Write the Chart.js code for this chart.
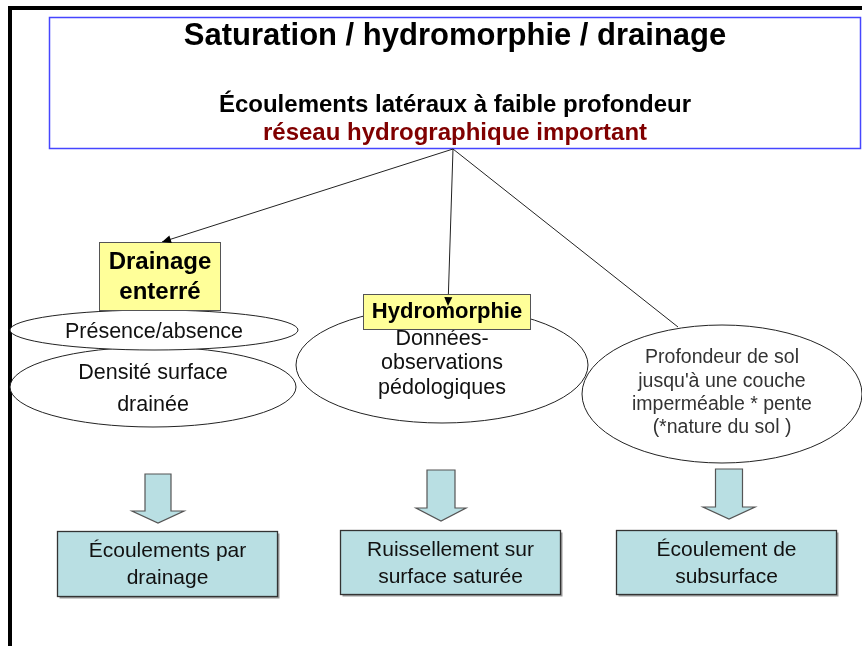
<!DOCTYPE html>
<html>
<head>
<meta charset="utf-8">
<script src="https://cdn.jsdelivr.net/npm/chart.js@4.4.1/dist/chart.umd.min.js"></script>
<style>
  html, body { margin: 0; padding: 0; background: #fff; }
  #diagram { display: block; }
</style>
</head>
<body>
<canvas id="diagram" width="862" height="646"></canvas>
<script>
/* global Chart */

// --- content (text only) ---
const titleLines = [
  'Saturation / hydromorphie / drainage',
  'Écoulements latéraux à faible profondeur',
  'réseau hydrographique important',
]
const branchNames = ['Drainage\nenterré', 'Hydromorphie']
const branchNotes = [
  'Présence/absence',
  'Densité surface\ndrainée',
  'Données-\nobservations\npédologiques',
  "Profondeur de sol\njusqu'à une couche\nimperméable * pente\n(*nature du sol )",
]
const outcomes = [
  'Écoulements par\ndrainage',
  'Ruissellement sur\nsurface saturée',
  'Écoulement de\nsubsurface',
]

// --- layout, in scale units (0..862 x 0..646) ---
const W = 862
const H = 646
const FONT = '"Liberation Sans", Arial, sans-serif'

const header = { x0: 49.5, y0: 17.5, x1: 860.5, y1: 148.5, lineY: [36, 105, 133.5] }
const root = [453, 149]
const links = [
  { to: [162, 242], head: true },
  { to: [448, 306], head: true },
  { to: [678, 327], head: false },
]
const ellipses = [
  { cx: 153, cy: 387, rx: 143, ry: 40, note: 1, size: 21.5, lh: 32, ty: 389 },
  { cx: 154, cy: 330, rx: 144, ry: 20, note: 0, size: 21.5, lh: 24, ty: 332 },
  { cx: 442, cy: 365, rx: 146, ry: 58, note: 2, size: 21.5, lh: 24.5, ty: 363.5 },
  { cx: 722, cy: 394, rx: 140, ry: 69, note: 3, size: 19.5, lh: 23.3, ty: 393 },
]
const labelBoxes = [
  { x0: 99.5, y0: 242.5, x1: 220.5, y1: 310.5, size: 24, lh: 30, ty: 277 },
  { x0: 363.5, y0: 294.5, x1: 530.5, y1: 329.5, size: 22, lh: 24, ty: 312 },
]
const blockArrows = [
  { cx: 158, top: 474, base: 511, tip: 523, shaft: 13, head: 26 },
  { cx: 441, top: 470, base: 508, tip: 521, shaft: 14, head: 25 },
  { cx: 729, top: 469, base: 507, tip: 519, shaft: 13.5, head: 26 },
]
const outcomeBoxes = [
  { x0: 57.5, y0: 531.5, x1: 277.5, y1: 596.5, ty: 564.5 },
  { x0: 340.5, y0: 530.5, x1: 560.5, y1: 594.5, ty: 563.5 },
  { x0: 616.5, y0: 530.5, x1: 836.5, y1: 594.5, ty: 563.5 },
]

function drawLines(ctx, text, x, y, lh) {
  const lines = text.split('\n')
  const start = y - ((lines.length - 1) * lh) / 2
  lines.forEach((line, i) => ctx.fillText(line, x, start + i * lh))
}

const diagramPlugin = {
  id: 'diagram',
  afterDraw(chart) {
    const { ctx } = chart
    const sx = (v) => chart.scales.x.getPixelForValue(v)
    const sy = (v) => chart.scales.y.getPixelForValue(v)
    ctx.save()
    ctx.textAlign = 'center'
    ctx.textBaseline = 'middle'

    // slide frame
    ctx.fillStyle = '#000'
    ctx.fillRect(sx(8), sy(6), sx(W) - sx(8), 4)
    ctx.fillRect(sx(8), sy(6), 4, sy(H) - sy(6))

    // header box
    ctx.strokeStyle = '#4646ff'
    ctx.lineWidth = 1.5
    ctx.strokeRect(sx(header.x0), sy(header.y0), sx(header.x1) - sx(header.x0), sy(header.y1) - sy(header.y0))
    const hx = (sx(header.x0) + sx(header.x1)) / 2
    ctx.fillStyle = '#000'
    ctx.font = `bold 31px ${FONT}`
    ctx.fillText(titleLines[0], hx, sy(header.lineY[0]))
    ctx.font = `bold 24px ${FONT}`
    ctx.fillText(titleLines[1], hx, sy(header.lineY[1]))
    ctx.fillStyle = '#800000'
    ctx.fillText(titleLines[2], hx, sy(header.lineY[2]))

    // connector lines (under the shapes)
    ctx.strokeStyle = '#222'
    ctx.lineWidth = 1
    links.forEach((l) => {
      ctx.beginPath()
      ctx.moveTo(sx(root[0]), sy(root[1]))
      ctx.lineTo(sx(l.to[0]), sy(l.to[1]))
      ctx.stroke()
    })

    // ellipses
    ellipses.forEach((e) => {
      ctx.beginPath()
      ctx.ellipse(sx(e.cx), sy(e.cy), e.rx, e.ry, 0, 0, Math.PI * 2)
      ctx.fillStyle = '#fff'
      ctx.fill()
      ctx.strokeStyle = '#222'
      ctx.lineWidth = 1
      ctx.stroke()
      ctx.fillStyle = e.note === 3 ? '#333' : '#111'
      ctx.font = `${e.size}px ${FONT}`
      drawLines(ctx, branchNotes[e.note], sx(e.cx), sy(e.ty), e.lh)
    })

    // yellow label boxes
    labelBoxes.forEach((b, i) => {
      ctx.fillStyle = '#ffff99'
      ctx.fillRect(sx(b.x0), sy(b.y0), sx(b.x1) - sx(b.x0), sy(b.y1) - sy(b.y0))
      ctx.strokeStyle = '#555'
      ctx.lineWidth = 1
      ctx.strokeRect(sx(b.x0), sy(b.y0), sx(b.x1) - sx(b.x0), sy(b.y1) - sy(b.y0))
      ctx.fillStyle = '#000'
      ctx.font = `bold ${b.size}px ${FONT}`
      drawLines(ctx, branchNames[i], (sx(b.x0) + sx(b.x1)) / 2, sy(b.ty), b.lh)
    })

    // arrowheads on the connectors (on top of the boxes)
    ctx.fillStyle = '#000'
    links.filter((l) => l.head).forEach((l) => {
      const x1 = sx(l.to[0])
      const y1 = sy(l.to[1])
      const a = Math.atan2(y1 - sy(root[1]), x1 - sx(root[0]))
      const len = 9
      const half = 4
      ctx.beginPath()
      ctx.moveTo(x1, y1)
      ctx.lineTo(x1 - len * Math.cos(a) + half * Math.sin(a), y1 - len * Math.sin(a) - half * Math.cos(a))
      ctx.lineTo(x1 - len * Math.cos(a) - half * Math.sin(a), y1 - len * Math.sin(a) + half * Math.cos(a))
      ctx.closePath()
      ctx.fill()
    })

    // block arrows
    blockArrows.forEach((a) => {
      const cx = sx(a.cx)
      ctx.beginPath()
      ctx.moveTo(cx - a.shaft, sy(a.top))
      ctx.lineTo(cx + a.shaft, sy(a.top))
      ctx.lineTo(cx + a.shaft, sy(a.base))
      ctx.lineTo(cx + a.head, sy(a.base))
      ctx.lineTo(cx, sy(a.tip))
      ctx.lineTo(cx - a.head, sy(a.base))
      ctx.lineTo(cx - a.shaft, sy(a.base))
      ctx.closePath()
      ctx.fillStyle = '#b9dfe3'
      ctx.fill()
      ctx.strokeStyle = '#555'
      ctx.lineWidth = 1.2
      ctx.stroke()
    })

    // outcome boxes
    outcomeBoxes.forEach((b, i) => {
      const w = sx(b.x1) - sx(b.x0)
      const h = sy(b.y1) - sy(b.y0)
      ctx.fillStyle = '#999'
      ctx.fillRect(sx(b.x0) + 2, sy(b.y0) + 2, w, h)
      ctx.fillStyle = '#b9dfe3'
      ctx.fillRect(sx(b.x0), sy(b.y0), w, h)
      ctx.strokeStyle = '#333'
      ctx.lineWidth = 1.3
      ctx.strokeRect(sx(b.x0), sy(b.y0), w, h)
      ctx.fillStyle = '#111'
      ctx.font = `21px ${FONT}`
      drawLines(ctx, outcomes[i], sx(b.x0) + w / 2, sy(b.ty), 27)
    })

    ctx.restore()
  },
}

new Chart(document.getElementById('diagram'), {
  type: 'scatter',
  data: { datasets: [{ data: [], pointRadius: 0 }] },
  options: {
    responsive: false,
    animation: false,
    events: [],
    layout: { padding: 0 },
    plugins: { legend: { display: false }, tooltip: { enabled: false } },
    scales: {
      x: { type: 'linear', min: 0, max: W, display: false },
      y: { type: 'linear', min: 0, max: H, reverse: true, display: false },
    },
  },
  plugins: [diagramPlugin],
})
</script>
</body>
</html>
